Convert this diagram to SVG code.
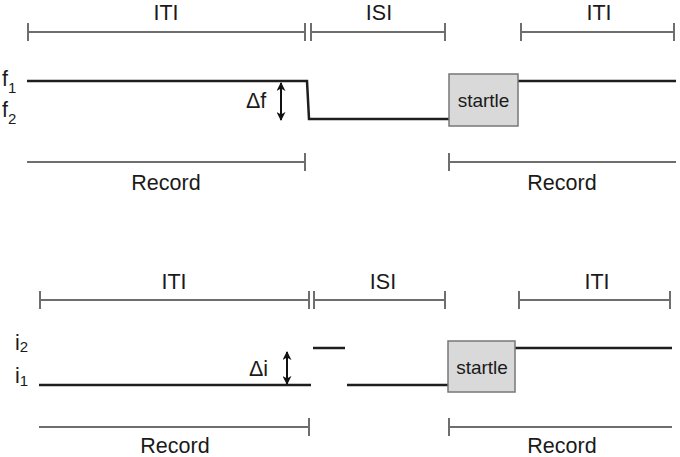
<svg xmlns="http://www.w3.org/2000/svg" width="680" height="457" viewBox="0 0 680 457">
<defs>
<marker id="ah" viewBox="0 0 10 10" refX="9" refY="5" markerWidth="4.5" markerHeight="4.5" orient="auto-start-reverse" markerUnits="strokeWidth">
<path d="M0,0 L10,5 L0,10 L3,5 z" fill="#111"/>
</marker>
<style>
.br{stroke:#6e6e6e;stroke-width:2;fill:none}
.sig{stroke:#1e1e1e;stroke-width:2.5;fill:none}
.t{font-family:"Liberation Sans",Arial,sans-serif;font-size:21.5px;fill:#1a1a1a}
.tc{text-anchor:middle}
.sub{font-size:15px}
.box{fill:#d9d9d9;stroke:#777;stroke-width:1.5}
.arr{stroke:#111;stroke-width:2;fill:none}
</style>
</defs>
<rect width="680" height="457" fill="#fff"/>

<g id="brackets">
<path class="br" d="M28,32 H305 M28,23 V41 M305,23 V41"/>
<path class="br" d="M311,32 H445 M311,23 V41 M445,23 V41"/>
<path class="br" d="M521,32 H674 M521,23 V41 M674,23 V41"/>
<path class="br" d="M27,162 H305 M305,153 V171"/>
<path class="br" d="M449,162 H676 M449,153 V171"/>
<path class="br" d="M40,300 H309 M40,291 V309 M309,291 V309"/>
<path class="br" d="M314,300 H445 M314,291 V309 M445,291 V309"/>
<path class="br" d="M519,300 H670 M519,291 V309 M670,291 V309"/>
<path class="br" d="M39,427 H309 M309,418 V436"/>
<path class="br" d="M449,427 H672 M449,418 V436"/>
</g>

<g id="labels">
<text class="t tc" x="166" y="20">ITI</text>
<text class="t tc" x="379" y="20">ISI</text>
<text class="t tc" x="599" y="20">ITI</text>
<text class="t tc" x="166" y="190">Record</text>
<text class="t tc" x="562" y="190">Record</text>
<text class="t tc" x="174" y="289">ITI</text>
<text class="t tc" x="383" y="289">ISI</text>
<text class="t tc" x="597" y="289">ITI</text>
<text class="t tc" x="175" y="453">Record</text>
<text class="t tc" x="562" y="453">Record</text>
<text class="t" x="2" y="86">f<tspan class="sub" dy="7">1</tspan></text>
<text class="t" x="2" y="117">f<tspan class="sub" dy="7">2</tspan></text>
<text class="t" x="15" y="350">i<tspan class="sub" dy="2">2</tspan></text>
<text class="t" x="15" y="383">i<tspan class="sub" dy="3">1</tspan></text>
<text class="t" x="246" y="108">Δf</text>
<text class="t" x="249" y="376">Δi</text>
</g>

<g id="signals">
<path class="sig" d="M27,81 H307 L309,119 H449"/>
<path class="sig" d="M518,81 H676"/>
<path class="sig" d="M39,385 H311"/>
<path class="sig" d="M313,348 H345"/>
<path class="sig" d="M347,385 H449"/>
<path class="sig" d="M515,348 H672"/>
<path class="arr" d="M281,83 V120" marker-start="url(#ah)" marker-end="url(#ah)"/>
<path class="arr" d="M287,352 V384" marker-start="url(#ah)" marker-end="url(#ah)"/>
</g>

<g id="startle1">
<rect class="box" x="449" y="74" width="69" height="52"/>
<text class="t tc" x="483.5" y="107" style="font-size:19px">startle</text>
</g>
<g id="startle2">
<rect class="box" x="448" y="341" width="67" height="51"/>
<text class="t tc" x="482" y="374" style="font-size:19px">startle</text>
</g>
</svg>
